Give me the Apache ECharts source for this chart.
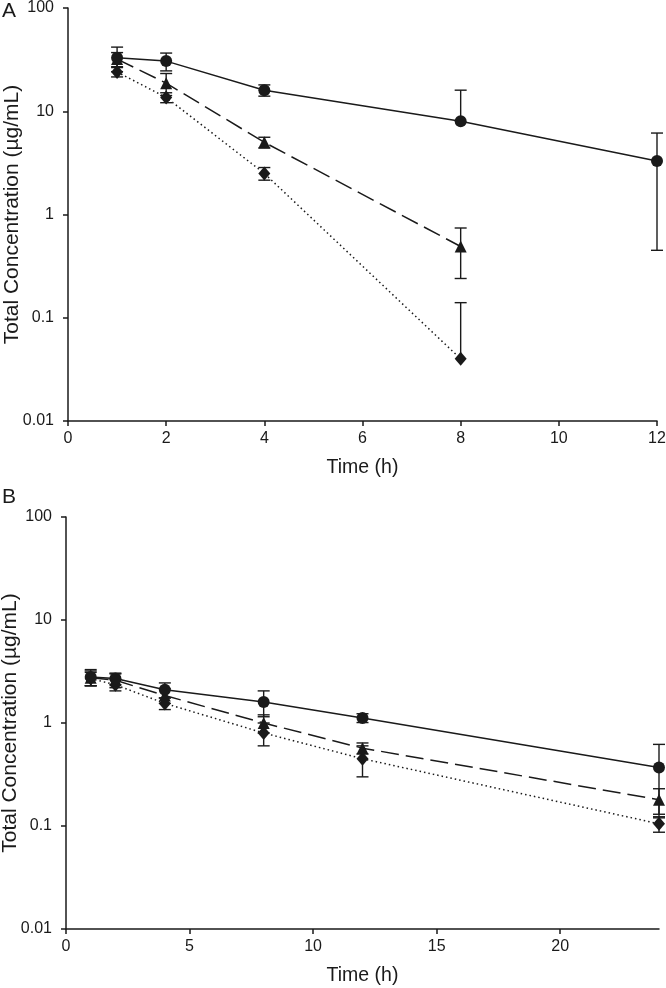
<!DOCTYPE html>
<html>
<head>
<meta charset="utf-8">
<script src="https://cdn.jsdelivr.net/npm/echarts@6/dist/echarts.min.js"></script>
<style>html,body{margin:0;padding:0;background:#fff;}#c{width:666px;height:988px;}</style>
</head>
<body>
<div id="c"></div>
<script>
// ---- Panel A data ----
const timesA = [1, 2, 4, 8, 12];
const timesA2 = [1, 2, 4, 8];
const circleA = [33, 30.6, 16, 8.0, 3.3];
const circleSdA = [8.8, 6, 2, 8, 2.85];
const triangleA = [32, 18.7, 5.0, 0.49];
const triangleSdA = [5, 4.5, 0.6, 0.25];
const diamondA = [24, 13.6, 2.5, 0.04];
const diamondSdA = [2.5, 1.5, 0.35, 0.10];

// ---- Panel B data ----
const timesB = [1, 2, 4, 8, 12, 24];
const circleB = [2.8, 2.7, 2.1, 1.6, 1.12, 0.37];
const circleSdB = [0.5, 0.35, 0.35, 0.45, 0.11, 0.25];
const triangleB = [2.75, 2.6, 1.85, 1.0, 0.57, 0.18];
const triangleSdB = [0.45, 0.4, 0.3, 0.2, 0.07, 0.05];
const diamondB = [2.7, 2.35, 1.55, 0.8, 0.45, 0.105];
const diamondSdB = [0.4, 0.3, 0.2, 0.2, 0.15, 0.018];

// ---- Axis ticks ----
const xTicksA = [0, 2, 4, 6, 8, 10, 12];
const xTicksB = [0, 5, 10, 15, 20];
const yTicks = [0.01, 0.1, 1, 10, 100];

const INK = '#1a1a1a';
const FONT = 'Liberation Sans, Arial, sans-serif';

function pairs(t, v) { return t.map((x, i) => [x, v[i]]); }
function errRows(t, v, sd) { return t.map((x, i) => [x, v[i], v[i] - sd[i], v[i] + sd[i]]); }

function errSeries(xi, rows) {
  return {
    type: 'custom', xAxisIndex: xi, yAxisIndex: xi, z: 1, silent: true,
    data: rows,
    renderItem: function (params, api) {
      const x = api.value(0), v = api.value(1), lo = api.value(2), hi = api.value(3);
      const pv = api.coord([x, v]);
      const ph = api.coord([x, hi]);
      const cw = 6;
      const children = [];
      const st = { stroke: INK, lineWidth: 1.4 };
      children.push({ type: 'line', shape: { x1: pv[0], y1: pv[1], x2: ph[0], y2: ph[1] }, style: st });
      children.push({ type: 'line', shape: { x1: ph[0] - cw, y1: ph[1], x2: ph[0] + cw, y2: ph[1] }, style: st });
      if (lo > 0) {
        const pl = api.coord([x, lo]);
        children.push({ type: 'line', shape: { x1: pv[0], y1: pv[1], x2: pl[0], y2: pl[1] }, style: st });
        children.push({ type: 'line', shape: { x1: pl[0] - cw, y1: pl[1], x2: pl[0] + cw, y2: pl[1] }, style: st });
      }
      return { type: 'group', children: children };
    }
  };
}

function lineSeries(xi, data, symbol, size, dash) {
  return {
    type: 'line', xAxisIndex: xi, yAxisIndex: xi, z: 3,
    data: data, symbol: symbol, symbolSize: size,
    itemStyle: { color: INK },
    lineStyle: { color: INK, width: 1.5, type: dash },
    animation: false
  };
}

function yAxisDef(gi) {
  return {
    type: 'log', gridIndex: gi, logBase: 10, min: 0.01, max: 100,
    name: 'Total Concentration (\u00b5g/mL)', nameLocation: 'middle', nameGap: 45,
    nameMoveOverlap: false,
    nameTextStyle: { fontSize: 21, color: INK, fontFamily: FONT },
    axisLine: { show: true, lineStyle: { color: INK, width: 1.5 } },
    axisTick: { show: true, inside: false, length: 5, lineStyle: { color: INK, width: 1.5 } },
    minorTick: { show: false },
    splitLine: { show: false },
    axisLabel: { fontSize: 16, color: INK, fontFamily: FONT, margin: 14,
      formatter: v => String(Number(Number(v).toPrecision(3))) }
  };
}

function xAxisDef(gi, max, interval, ticks) {
  return {
    type: 'value', gridIndex: gi, min: 0, max: max, interval: interval,
    name: 'Time (h)', nameLocation: 'middle', nameGap: 37,
    nameMoveOverlap: false,
    nameTextStyle: { fontSize: 19.5, color: INK, fontFamily: FONT },
    axisLine: { show: true, onZero: false, lineStyle: { color: INK, width: 1.5 } },
    axisTick: { show: true, inside: false, length: 5, lineStyle: { color: INK, width: 1.5 }, customValues: ticks },
    splitLine: { show: false },
    axisLabel: { fontSize: 16, color: INK, fontFamily: FONT, margin: 10, customValues: ticks }
  };
}

const chart = echarts.init(document.getElementById('c'), null, { renderer: 'canvas' });
chart.setOption({
  animation: false,
  backgroundColor: '#fff',
  grid: [
    { left: 68, top: 8, width: 589, height: 413, containLabel: false, outerBoundsMode: 'none' },
    { left: 66, top: 517, width: 593, height: 412, containLabel: false, outerBoundsMode: 'none' }
  ],
  xAxis: [xAxisDef(0, 12, 2, xTicksA), xAxisDef(1, 24, 5, xTicksB)],
  yAxis: [yAxisDef(0), yAxisDef(1)],
  graphic: [
    { type: 'text', left: 2, top: 1, style: { text: 'A', fontSize: 21, fill: INK, fontFamily: FONT } },
    { type: 'text', left: 2, top: 487, style: { text: 'B', fontSize: 21, fill: INK, fontFamily: FONT } }
  ],
  series: [
    errSeries(0, errRows(timesA, circleA, circleSdA)),
    errSeries(0, errRows(timesA2, triangleA, triangleSdA)),
    errSeries(0, errRows(timesA2, diamondA, diamondSdA)),
    lineSeries(0, pairs(timesA2, diamondA), 'diamond', [12, 14], [1.5, 3]),
    lineSeries(0, pairs(timesA2, triangleA), 'triangle', 12, [18, 7]),
    lineSeries(0, pairs(timesA, circleA), 'circle', 12, 'solid'),
    errSeries(1, errRows(timesB, circleB, circleSdB)),
    errSeries(1, errRows(timesB, triangleB, triangleSdB)),
    errSeries(1, errRows(timesB, diamondB, diamondSdB)),
    lineSeries(1, pairs(timesB, diamondB), 'diamond', [12, 14], [1.5, 3]),
    lineSeries(1, pairs(timesB, triangleB), 'triangle', 12, [18, 7]),
    lineSeries(1, pairs(timesB, circleB), 'circle', 12, 'solid')
  ]
});
</script>
</body>
</html>
